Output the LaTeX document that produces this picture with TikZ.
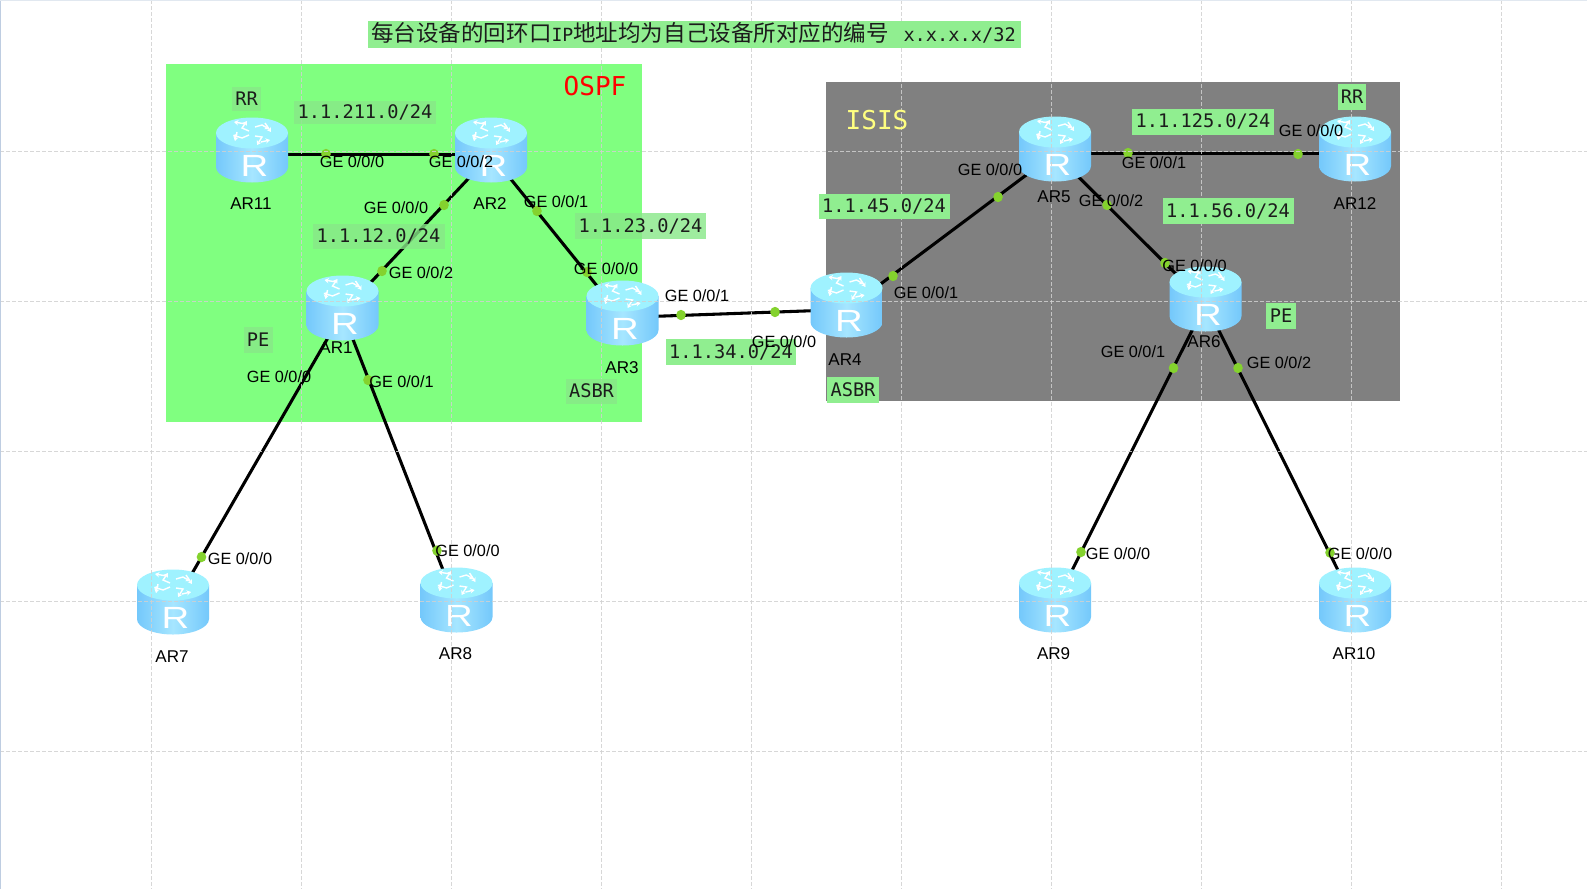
\documentclass[tikz,border=0pt]{standalone}
\usepackage{fontspec}
\setmainfont{Liberation Sans}
\newfontfamily\cjk{Noto Sans CJK SC}
\newfontfamily\monof{DejaVu Sans Mono}
\usetikzlibrary{arrows.meta}
\definecolor{ospfgreen}{HTML}{80FF80}
\definecolor{isisgray}{HTML}{808080}
\definecolor{labgreen}{HTML}{90EE90}
\definecolor{labmuted}{HTML}{88E888}
\definecolor{dotgreen}{HTML}{84D22E}
\definecolor{gridc}{HTML}{D0D0D0}
\definecolor{rtop}{HTML}{9FF2FF}
\definecolor{rside}{HTML}{74C8FB}
\definecolor{rmid}{HTML}{A6E6FF}
\definecolor{txt}{HTML}{1C1C1C}
\tikzset{
  x=0.75pt,y=-0.75pt,
  routerbox/.style={inner sep=0pt,minimum width=40.5pt,minimum height=33pt},
  link/.style={line width=2.3pt,black},
  portdot/.style={fill=dotgreen,draw=none},
  port/.style={inner sep=0pt,text=black,font=\fontsize{12.2}{14}\selectfont},
  devname/.style={inner sep=0pt,text=black,font=\fontsize{12.8}{15}\selectfont},
  netlab/.style={inner sep=0pt,text=txt,fill=labgreen,font=\monof\fontsize{14}{16}\selectfont},
  netmuted/.style={netlab,fill=labmuted,fill opacity=.8,text opacity=1},
  gridline/.style={gridc,line width=0.7pt,opacity=.85,dash pattern=on 3pt off 1.5pt},
  glyph/.style={white,line width=1.05pt,-{Stealth[length=3.2pt,width=4pt]}},
}
\newcommand{\rtrnode}[3]{\node[routerbox] (#1) at (#2,#3) {};}
\newcommand{\portdotat}[2]{\fill[portdot] (#1,#2) ellipse [x radius=4.8,y radius=5.2];}
\newcommand{\rtricon}[1]{%
  \begin{scope}[shift={(#1.center)},shift={(0,-4.5)}]
    \path[left color=rside,right color=rside,middle color=rmid]
      (-36,-17) -- (-36,17) arc[start angle=180,end angle=0,x radius=36,y radius=15.5] -- (36,-17) -- cycle;
    \fill[rtop] (0,-17) ellipse [x radius=36,y radius=15.5];
    \draw[glyph] (-3,-19) -- (-10,-22) -- (-5,-29);
    \draw[glyph] (-6,-26) -- (-18,-28);
    \draw[glyph] (3,-23) -- (10,-25) -- (17,-21);
    \draw[glyph] (13,-27) -- (19,-18);
    \draw[glyph] (-3,-15) -- (-10,-12) -- (-19,-15);
    \draw[glyph] (-15,-18) -- (-17,-9);
    \draw[glyph] (3,-14) -- (10,-13) -- (5,-5);
    \draw[glyph] (9,-8) -- (18,-10);
    \node[inner sep=0pt,text=white,font=\fontsize{23}{24}\selectfont,xscale=1.25] (#1-R) at (2.5,16) {R};
  \end{scope}}
\begin{document}
\begin{tikzpicture}
\useasboundingbox (0,0) rectangle (1587,889);
\fill[white] (0,0) rectangle (1587,889);
% regions
\fill[ospfgreen] (166,64) rectangle (642,422);
\fill[isisgray] (826,82) rectangle (1400,401);
% routers (invisible anchors; the icon is painted over the links)
\rtrnode{AR11}{252}{154.5}
\rtrnode{AR2}{491}{154.5}
\rtrnode{AR1}{342.5}{312.5}
\rtrnode{AR3}{622.5}{317.5}
\rtrnode{AR4}{846.5}{309.5}
\rtrnode{AR5}{1055}{153.5}
\rtrnode{AR12}{1355}{153.5}
\rtrnode{AR6}{1205.5}{303.5}
\rtrnode{AR7}{173}{606.5}
\rtrnode{AR8}{456.5}{604.5}
\rtrnode{AR9}{1055}{604.5}
\rtrnode{AR10}{1355}{604.5}
% links
\draw[link] (AR11) -- (AR2);
\draw[link] (AR2) -- (AR1);
\draw[link] (AR2) -- (AR3);
\draw[link] (AR1) -- (AR7);
\draw[link] (AR1) -- (AR8);
\draw[link] (AR3) -- (AR4);
\draw[link] (AR4) -- (AR5);
\draw[link] (AR5) -- (AR12);
\draw[link] (AR5) -- (AR6);
\draw[link] (AR6) -- (AR9);
\draw[link] (AR6) -- (AR10);
% port dots
\portdotat{326}{154}\portdotat{434}{154}
\portdotat{444}{205}\portdotat{382}{271}
\portdotat{537}{211}\portdotat{587}{272}
\portdotat{201.5}{557}
\portdotat{368}{380}\portdotat{437}{550.6}
\portdotat{681}{315}\portdotat{775}{312}
\portdotat{893}{276}\portdotat{998}{197}
\portdotat{1128}{153}\portdotat{1298}{154}
\portdotat{1107}{205}\portdotat{1165}{263}
\portdotat{1173.5}{368}\portdotat{1081}{552}
\portdotat{1238}{368}\portdotat{1330}{552.6}
% router icons
\rtricon{AR11}\rtricon{AR2}\rtricon{AR1}\rtricon{AR3}
\rtricon{AR4}\rtricon{AR5}\rtricon{AR12}\rtricon{AR6}
\rtricon{AR7}\rtricon{AR8}\rtricon{AR9}\rtricon{AR10}
% grid
\foreach \gx in {151,301,451,601,751,901,1051,1201,1351,1501}
  \draw[gridline] (\gx,0) -- (\gx,889);
\foreach \gy in {151,301,451,601,751}
  \draw[gridline] (0,\gy) -- (1587,\gy);
\draw[color={rgb,255:red,190;green,205;blue,225},line width=0.9pt] (0.5,0) -- (0.5,889);
\draw[color={rgb,255:red,225;green,232;blue,240},line width=0.9pt] (0,0.5) -- (1587,0.5);
% title
\fill[labgreen] (368,21) rectangle (1021,48);
\node[inner sep=0pt,anchor=west,text=txt] (title) at (371,32.5)
  {\cjk\fontsize{16.9}{20}\selectfont 每台设备的回环口{\monof\fontsize{13.6}{16}\selectfont IP}地址均为自己设备所对应的编号\hspace{11pt}{\monof\fontsize{14}{16}\selectfont x.x.x.x/32}};
% area names
\node[inner sep=0pt,text=red,font=\monof\fontsize{19.5}{21}\selectfont] (ospf) at (595,86) {OSPF};
\node[inner sep=0pt,text={rgb,255:red,255;green,255;blue,128},font=\monof\fontsize{19.5}{21}\selectfont] (isis) at (877,120) {ISIS};
% network and role labels
\node[netmuted,minimum width=21.75pt,minimum height=18pt] (rrA) at (246.5,98.5) {RR};
\node[netmuted,minimum width=106.5pt,minimum height=17.25pt] (n211) at (365,112) {1.1.211.0/24};
\node[netmuted,minimum width=99pt,minimum height=18.75pt] (n12) at (378.5,236) {1.1.12.0/24};
\node[netmuted,minimum width=98pt,minimum height=19.5pt] (n23) at (640.5,226) {1.1.23.0/24};
\node[netmuted,minimum width=21.75pt,minimum height=19.5pt] (peA) at (258,340) {PE};
\node[netmuted,minimum width=38.25pt,minimum height=18.75pt] (asbrA) at (591.5,391) {ASBR};
\node[netlab,minimum width=97pt,minimum height=19pt] (n34) at (731,352) {1.1.34.0/24};
\node[netlab,minimum width=98.25pt,minimum height=18.75pt] (n45) at (884,206.5) {1.1.45.0/24};
\node[netlab,minimum width=106.5pt,minimum height=19.5pt] (n125) at (1203,121.5) {1.1.125.0/24};
\node[netlab,minimum width=98.25pt,minimum height=19.5pt] (n56) at (1228,211) {1.1.56.0/24};
\node[netlab,minimum width=21pt,minimum height=19.5pt] (rrB) at (1352,97) {RR};
\node[netlab,minimum width=22.5pt,minimum height=19.5pt] (peB) at (1281,316) {PE};
\node[netlab,minimum width=39pt,minimum height=19pt] (asbrB) at (853,390) {ASBR};
% device names
\node[devname] (tAR11) at (251,204) {AR11};
\node[devname] (tAR2) at (490,204) {AR2};
\node[devname] (tAR1) at (336,348) {AR1};
\node[devname] (tAR3) at (622,368) {AR3};
\node[devname] (tAR4) at (845,360) {AR4};
\node[devname] (tAR5) at (1054,197) {AR5};
\node[devname] (tAR12) at (1355,204) {AR12};
\node[devname] (tAR6) at (1204,342) {AR6};
\node[devname] (tAR7) at (172,657) {AR7};
\node[devname] (tAR8) at (455.5,654) {AR8};
\node[devname] (tAR9) at (1053.6,654) {AR9};
\node[devname] (tAR10) at (1354,654) {AR10};
% port labels
\node[port] (p01) at (352,162) {GE 0/0/0};
\node[port] (p02) at (461,162) {GE 0/0/2};
\node[port] (p03) at (396,208) {GE 0/0/0};
\node[port] (p04) at (556,202) {GE 0/0/1};
\node[port] (p05) at (421,273) {GE 0/0/2};
\node[port] (p06) at (606,268.5) {GE 0/0/0};
\node[port] (p07) at (279,377) {GE 0/0/0};
\node[port] (p08) at (401.5,382) {GE 0/0/1};
\node[port] (p09) at (697,295.5) {GE 0/0/1};
\node[port] (p10) at (784,342) {GE 0/0/0};
\node[port] (p11) at (926,293) {GE 0/0/1};
\node[port] (p12) at (990,170) {GE 0/0/0};
\node[port] (p13) at (1154,163) {GE 0/0/1};
\node[port] (p14) at (1311,131) {GE 0/0/0};
\node[port] (p15) at (1111,201) {GE 0/0/2};
\node[port] (p16) at (1194.5,266) {GE 0/0/0};
\node[port] (p17) at (1133,352) {GE 0/0/1};
\node[port] (p18) at (1279,363) {GE 0/0/2};
\node[port] (p19) at (240,558.5) {GE 0/0/0};
\node[port] (p20) at (467.5,550.6) {GE 0/0/0};
\node[port] (p21) at (1118,553.6) {GE 0/0/0};
\node[port] (p22) at (1360,553.6) {GE 0/0/0};
\end{tikzpicture}
\end{document}
